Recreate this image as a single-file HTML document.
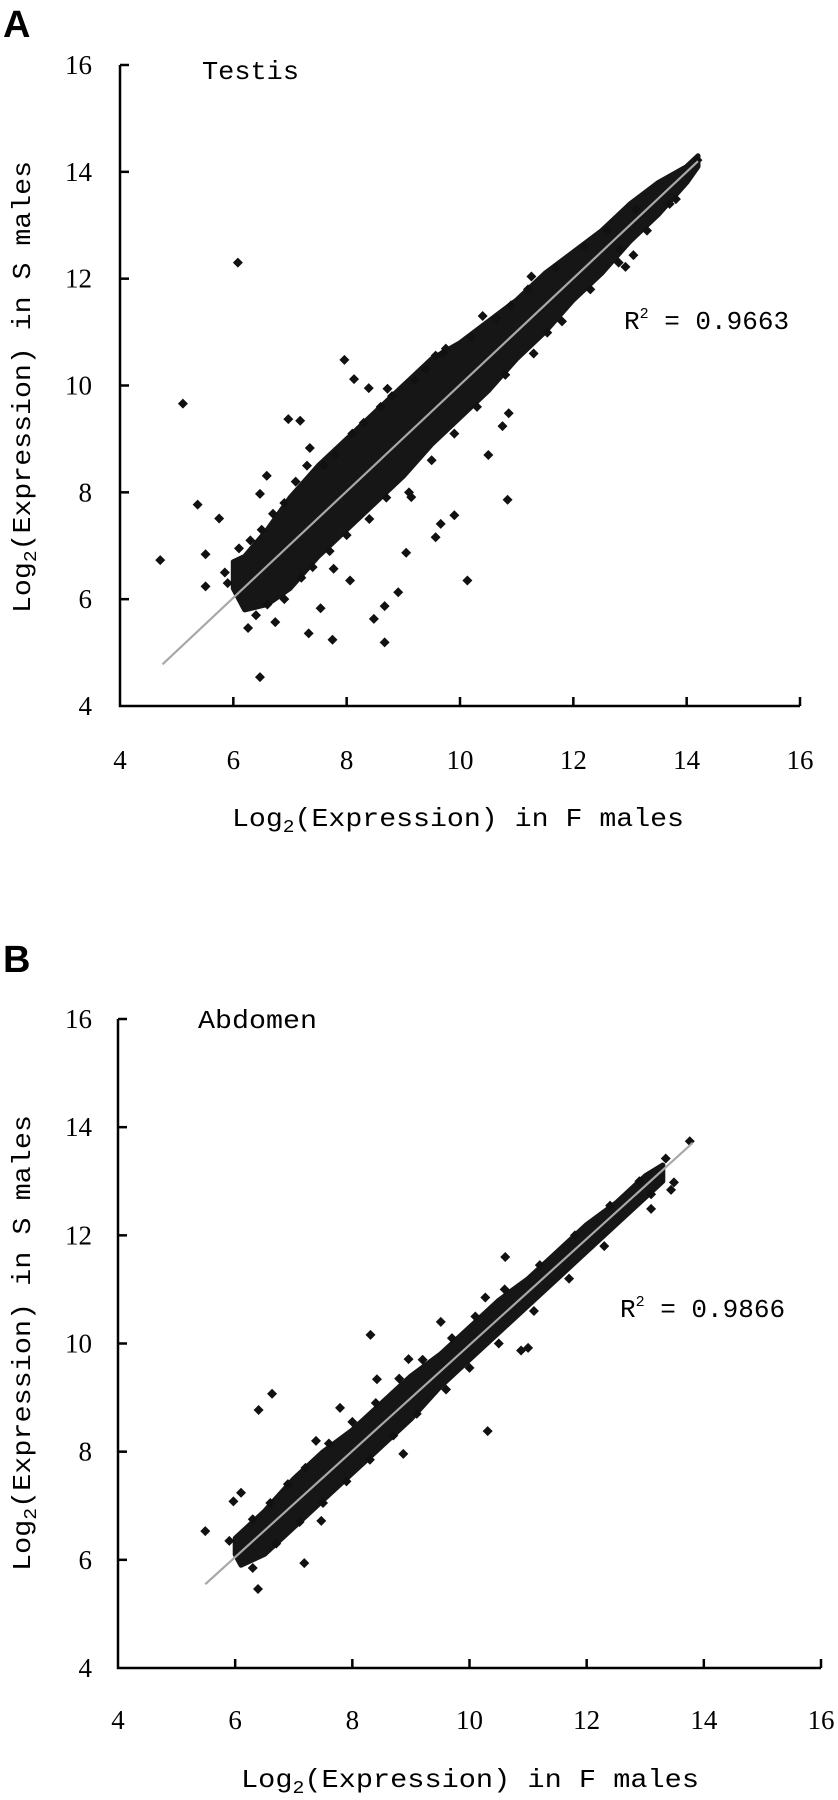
<!DOCTYPE html>
<html><head><meta charset="utf-8"><style>
html,body{margin:0;padding:0;background:#fff;}
svg{display:block}
</style></head><body>
<svg id="chart" width="838" height="1800" viewBox="0 0 838 1800" xmlns="http://www.w3.org/2000/svg"></svg>
<script>
// ---- data ----
const xTicks = [4, 6, 8, 10, 12, 14, 16];
const yTicks = [4, 6, 8, 10, 12, 14, 16];
// Panel A (Testis)
const bandAx = [6.0, 6.2, 6.6, 7.0, 7.5, 8.0, 8.5, 9.0, 9.5, 10.0, 10.5, 11.0, 11.5, 12.0, 12.5, 13.0, 13.5, 14.0, 14.2];
const bandAlo = [6.2, 5.8, 5.9, 6.2, 6.8, 7.3, 7.8, 8.3, 8.9, 9.4, 9.9, 10.5, 11.0, 11.6, 12.1, 12.7, 13.2, 13.8, 14.1];
const bandAhi = [6.7, 6.8, 7.3, 7.9, 8.5, 9.0, 9.5, 10.0, 10.5, 10.8, 11.2, 11.6, 12.1, 12.5, 12.9, 13.4, 13.8, 14.1, 14.3];
const outAx = [4.71,5.11,6.08,5.37,5.75,5.51,5.51,6.47,6.26,7.33,7.75,8.67,8.48,8.67,8.91,9.05,10.13,10.84,10.5,10.75,10.86,9.57,9.66,9.9,9.14,7.96,8.13,8.39,8.72,6.97,7.18,7.35,6.59,6.47,11.26,12.92,13.06,13.81,14.19,12.82,7.77,8.06,7.54,6.74,9.57,9.75,10.64,11.54];
const outAy = [6.73,9.66,12.30,7.77,7.51,6.84,6.24,4.54,5.46,5.36,5.24,5.19,5.63,5.87,6.13,6.87,6.35,7.86,8.70,9.24,9.48,7.16,7.41,7.57,7.91,10.48,10.12,9.95,9.94,9.37,9.34,8.83,8.31,7.97,12.04,12.22,12.44,13.49,14.22,12.55,6.57,6.35,5.83,5.57,10.56,10.69,11.26,10.99];
const fringeAx = [5.85,5.9,6.1,6.3,6.5,6.7,6.9,7.1,7.3,7.6,7.8,8.1,8.3,8.6,8.8,9.2,9.4,9.7,10.2,10.4,10.9,11.2,11.7,12.2,12.6,13.1,6.4,6.6,6.9,7.2,7.4,7.7,8.0,8.4,8.7,9.1,9.5,9.9,10.3,10.8,11.3,11.8,12.3,12.8,13.3,13.7];
const fringeAy = [6.5,6.3,6.95,7.1,7.3,7.6,7.8,8.2,8.5,8.5,8.7,9.1,9.3,9.6,9.8,10.1,10.3,10.6,10.9,11.3,11.5,11.8,12.2,12.6,12.9,13.3,5.7,5.9,6.0,6.4,6.6,6.9,7.2,7.5,7.9,8.0,8.6,9.1,9.6,10.2,10.6,11.2,11.8,12.3,12.9,13.4];
const fitA = [[4.75, 4.78], [14.2, 14.2]];
// Panel B (Abdomen)
const bandBx = [6.0, 6.1, 6.5, 7.0, 7.5, 8.0, 8.5, 9.0, 9.5, 10.0, 10.5, 11.0, 11.5, 12.0, 12.5, 13.0, 13.3];
const bandBlo = [6.1, 5.9, 6.1, 6.6, 7.1, 7.6, 8.1, 8.6, 9.2, 9.7, 10.2, 10.7, 11.2, 11.7, 12.2, 12.7, 13.0];
const bandBhi = [6.4, 6.5, 6.9, 7.5, 8.0, 8.4, 8.9, 9.4, 9.8, 10.3, 10.8, 11.2, 11.7, 12.2, 12.6, 13.1, 13.3];
const outBx = [5.49,5.97,6.1,6.40,6.63,6.39,7.18,8.31,10.31,10.61,10.88,11.0,8.87,9.51,13.1,13.1,13.44,13.49,13.35,13.76,7.79,8.42,8.96,7.38,7.47,10.27];
const outBy = [6.53,7.08,7.24,8.77,9.07,5.46,5.94,10.16,8.38,11.6,9.87,9.92,7.96,10.4,12.76,12.49,12.84,12.98,13.42,13.74,8.81,9.34,9.71,8.2,6.72,10.85];
const fringeBx = [5.9,6.3,6.6,6.9,7.2,7.6,8.0,8.4,8.8,9.2,9.7,10.1,10.6,11.2,11.8,12.4,12.9,6.3,6.7,7.1,7.5,7.9,8.3,8.7,9.1,9.6,10.0,10.5,11.1,11.7,12.3];
const fringeBy = [6.35,6.75,7.05,7.4,7.7,8.15,8.55,8.9,9.35,9.7,10.1,10.5,11.0,11.45,12.0,12.55,13.0,5.85,6.3,6.7,7.05,7.45,7.85,8.3,8.7,9.15,9.55,10.0,10.6,11.2,11.8];
const fitB = [[5.49, 5.55], [13.81, 13.71]];

const NS = 'http://www.w3.org/2000/svg';
const svg = document.getElementById('chart');
function mk(tag, attrs, parent, text) {
  const e = document.createElementNS(NS, tag);
  for (const k in attrs) e.setAttribute(k, attrs[k]);
  if (text !== undefined) e.textContent = text;
  (parent || svg).appendChild(e);
  return e;
}

function panel(cfg) {
  const g = mk('g', {});
  
  
  const sx = v => cfg.x0 + (v - 4) / 12 * (cfg.x1 - cfg.x0);
  const sy = v => cfg.y0 - (v - 4) / 12 * (cfg.y0 - cfg.y1);

  const lab = mk('text', {x: cfg.labX, y: cfg.labY, 'font-family': 'Liberation Sans, sans-serif', 'font-weight': 'bold', 'font-size': 38, fill: '#000'}, g, cfg.label);
  
  

  let pts = [];
  cfg.bx.forEach((v, i) => pts.push(sx(v).toFixed(1) + ',' + sy(cfg.bhi[i]).toFixed(1)));
  for (let i = cfg.bx.length - 1; i >= 0; i--) pts.push(sx(cfg.bx[i]).toFixed(1) + ',' + sy(cfg.blo[i]).toFixed(1));
  const band = mk('polygon', {points: pts.join(' '), fill: '#161616', stroke: '#161616', 'stroke-width': 5, 'stroke-linejoin': 'round'}, g);
  
  

  function diamond(vx, vy) {
    const cx = sx(vx), cy = sy(vy);
    const d = mk('path', {d: `M${cx},${cy - 5} L${cx + 5},${cy} L${cx},${cy + 5} L${cx - 5},${cy} Z`, fill: '#111'}, g);
    
    
  }
  cfg.fx.forEach((v, i) => diamond(v, cfg.fy[i]));
  cfg.ox.forEach((v, i) => diamond(v, cfg.oy[i]));

  const fl = mk('line', {x1: sx(cfg.fit[0][0]), y1: sy(cfg.fit[0][1]), x2: sx(cfg.fit[1][0]), y2: sy(cfg.fit[1][1]), stroke: '#a8a8a8', 'stroke-width': 2.2}, g);
  
  

  const ax = mk('path', {d: `M${cfg.x0},${cfg.y1} V${cfg.y0} H${cfg.x1}`, fill: 'none', stroke: '#000', 'stroke-width': 2.5}, g);
  
  

  xTicks.forEach(t => {
    const x = sx(t);
    if (t > 4) mk('line', {x1: x, y1: cfg.y0, x2: x, y2: cfg.y0 - 9, stroke: '#000', 'stroke-width': 2.5}, g);
    const tl = mk('text', {x: x, y: cfg.xLabY, 'text-anchor': 'middle', 'font-family': 'Liberation Serif, serif', 'font-size': 27, fill: '#000'}, g, String(t));
    
    
  });
  yTicks.forEach(t => {
    const y = sy(t);
    if (t > 4) mk('line', {x1: cfg.x0, y1: y, x2: cfg.x0 + 9, y2: y, stroke: '#000', 'stroke-width': 2.5}, g);
    const tl = mk('text', {x: 92, y: y + 9, 'text-anchor': 'end', 'font-family': 'Liberation Serif, serif', 'font-size': 27, fill: '#000'}, g, String(t));
    
    
  });

  const xt = mk('text', {x: cfg.xtX, y: cfg.xtY, 'font-family': 'Liberation Mono, monospace', 'font-size': 26, fill: '#000', textLength: cfg.xtW, lengthAdjust: 'spacingAndGlyphs'}, g);
  
  
  mk('tspan', {}, xt, 'Log');
  mk('tspan', {'font-size': 18, dy: 6}, xt, '2');
  mk('tspan', {dy: -6}, xt, '(Expression) in F males');

  const ycx = 21, ycy = cfg.ytC;
  const yt = mk('text', {x: 0, y: 0, transform: `translate(${ycx + 9},${ycy}) rotate(-90)`, 'text-anchor': 'middle', 'font-family': 'Liberation Mono, monospace', 'font-size': 26, fill: '#000', textLength: cfg.ytW, lengthAdjust: 'spacingAndGlyphs'}, g);
  
  
  mk('tspan', {}, yt, 'Log');
  mk('tspan', {'font-size': 18, dy: 6}, yt, '2');
  mk('tspan', {dy: -6}, yt, '(Expression) in S males');

  const tt = mk('text', {x: cfg.ttX, y: cfg.ttY, 'font-family': 'Liberation Mono, monospace', 'font-size': 26, fill: '#000', textLength: cfg.ttW, lengthAdjust: 'spacingAndGlyphs'}, g, cfg.tissue);
  
  

  const rt = mk('text', {x: cfg.rX, y: cfg.rY, 'font-family': 'Liberation Mono, monospace', 'font-size': 26, fill: '#000'}, g);
  
  
  mk('tspan', {}, rt, 'R');
  mk('tspan', {'font-size': 15, dy: -11}, rt, '2');
  mk('tspan', {dy: 11}, rt, ' = 0.' + cfg.r2);
}

panel({name: 'panel-a-testis', label: 'A', labX: 3, labY: 37, x0: 120, x1: 800, y0: 706, y1: 65,
  bx: bandAx, blo: bandAlo, bhi: bandAhi, ox: outAx, oy: outAy, fx: fringeAx, fy: fringeAy, fit: fitA,
  xLabY: 769, xtX: 232, xtY: 826, xtW: 452, ytC: 387, ytW: 452,
  tissue: 'Testis', ttX: 202, ttY: 79, ttW: 97, rX: 624, rY: 329, r2: '9663'});
panel({name: 'panel-b-abdomen', label: 'B', labX: 3, labY: 972, x0: 118, x1: 821, y0: 1668, y1: 1019,
  bx: bandBx, blo: bandBlo, bhi: bandBhi, ox: outBx, oy: outBy, fx: fringeBx, fy: fringeBy, fit: fitB,
  xLabY: 1729, xtX: 241, xtY: 1787, xtW: 458, ytC: 1343, ytW: 456,
  tissue: 'Abdomen', ttX: 198, ttY: 1028, ttW: 119, rX: 620, rY: 1317, r2: '9866'});
</script>
</body></html>
